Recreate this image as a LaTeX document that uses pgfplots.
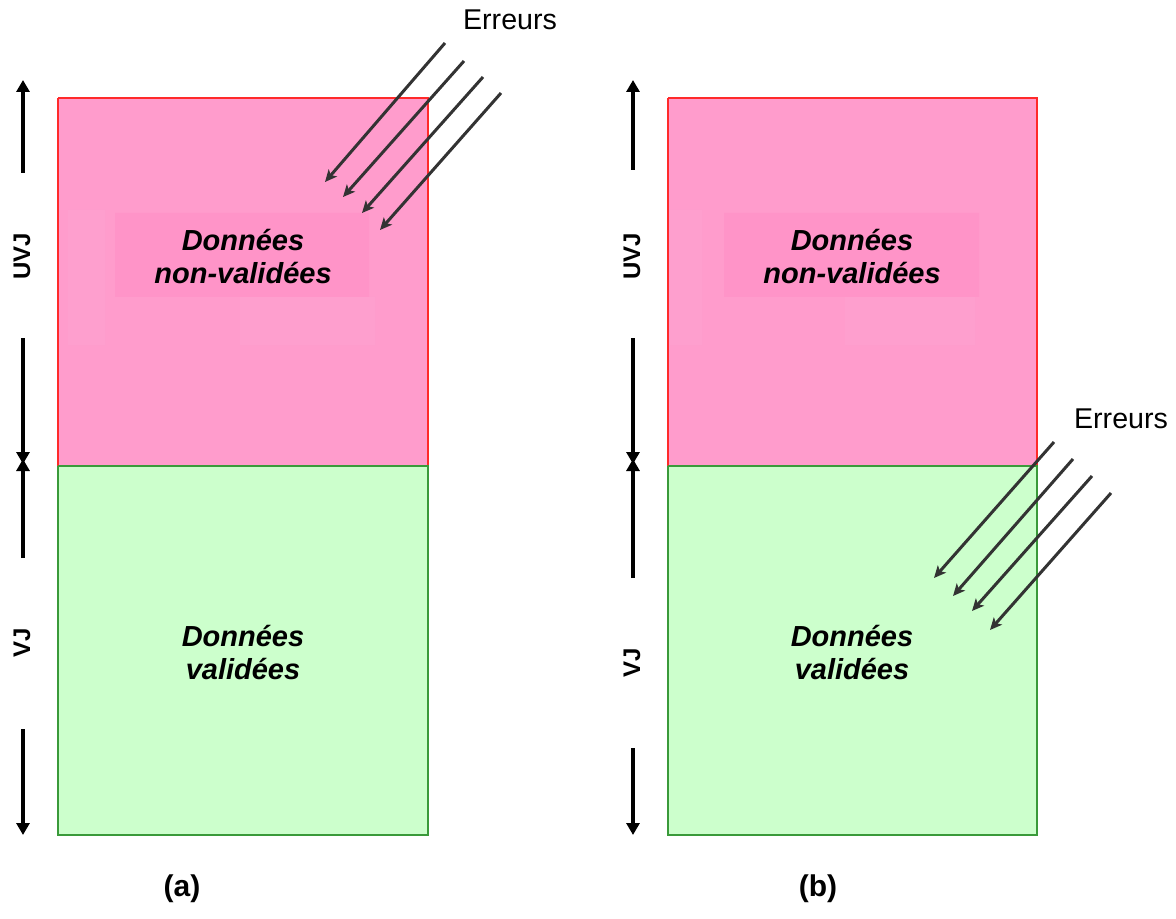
\documentclass[border=0pt]{standalone}
\usepackage{pgfplots}
\pgfplotsset{compat=1.18}
\usepackage{fontspec}
\setmainfont{Liberation Sans}
\usetikzlibrary{arrows.meta}
\definecolor{pinkfill}{HTML}{FF9CCC}
\definecolor{pinkin}{HTML}{FF94C8}
\definecolor{pinkfaint}{HTML}{FE9FCE}
\definecolor{greenfill}{HTML}{CCFFCC}
\definecolor{greenedge}{HTML}{3A9A3A}
\definecolor{rededge}{HTML}{FF2A2A}
\definecolor{errcol}{HTML}{333333}
\begin{document}
\begin{tikzpicture}
\begin{axis}[
  width=588pt, height=459.5pt, scale only axis,
  xmin=0, xmax=1176, ymin=0, ymax=919, y dir=reverse,
  hide axis, clip=false,
]
\addplot[draw=none] coordinates {(0,0) (1176,919)};
% panel (a)
\addplot[fill=pinkfill, draw=rededge, line width=0.6pt] coordinates {(58,98) (428,98) (428,466) (58,466) (58,98)};
\addplot[fill=pinkfaint, draw=none] coordinates {(68,210) (105,210) (105,345) (68,345) (68,210)};
\addplot[fill=pinkfaint, draw=none] coordinates {(240,297) (375,297) (375,345) (240,345) (240,297)};
\addplot[fill=pinkin, draw=none] coordinates {(115,213) (369,213) (369,297) (115,297) (115,213)};
\addplot[fill=greenfill, draw=greenedge, line width=0.6pt] coordinates {(58,466) (428,466) (428,835) (58,835) (58,466)};
% panel (b)
\addplot[fill=pinkfill, draw=rededge, line width=0.6pt] coordinates {(668,98) (1037,98) (1037,466) (668,466) (668,98)};
\addplot[fill=pinkfaint, draw=none] coordinates {(670,210) (702,210) (702,345) (670,345) (670,210)};
\addplot[fill=pinkfaint, draw=none] coordinates {(845,297) (975,297) (975,345) (845,345) (845,297)};
\addplot[fill=pinkin, draw=none] coordinates {(724,213) (979,213) (979,297) (724,297) (724,213)};
\addplot[fill=greenfill, draw=greenedge, line width=0.6pt] coordinates {(668,466) (1037,466) (1037,835) (668,835) (668,466)};
% vertical arrows (a)
\pgfplotsset{varr/.style={black, line width=2pt, -{Triangle[width=6.5pt,length=6pt]}}}
\addplot[varr] coordinates {(23,173) (23,80)};
\addplot[varr] coordinates {(23,338) (23,464)};
\addplot[varr] coordinates {(23,558) (23,459)};
\addplot[varr] coordinates {(23,729) (23,835)};
% vertical arrows (b)
\addplot[varr] coordinates {(633,170) (633,80)};
\addplot[varr] coordinates {(633,338) (633,464)};
\addplot[varr] coordinates {(633,578) (633,459)};
\addplot[varr] coordinates {(633,748) (633,835)};
% error arrows (a)
\pgfplotsset{earr/.style={errcol, line width=1.5pt, -{Stealth[width=5.5pt,length=6pt,inset=1.5pt]}}}
\addplot[earr] coordinates {(445,43) (325,182)};
\addplot[earr] coordinates {(464,61) (343,197)};
\addplot[earr] coordinates {(483,77) (362,213)};
\addplot[earr] coordinates {(501,93) (380,230)};
% error arrows (b)
\addplot[earr] coordinates {(1054,442) (934,578)};
\addplot[earr] coordinates {(1073,459) (953,596)};
\addplot[earr] coordinates {(1092,476) (972,611)};
\addplot[earr] coordinates {(1111,493) (990,630)};
% texts
\node[align=center, font=\fontsize{14.5}{16.5}\selectfont\bfseries\itshape] at (axis cs:243,257) {Données\\non-validées};
\node[align=center, font=\fontsize{14.5}{16.5}\selectfont\bfseries\itshape] at (axis cs:852,257) {Données\\non-validées};
\node[align=center, font=\fontsize{14.5}{16.5}\selectfont\bfseries\itshape] at (axis cs:243,653) {Données\\validées};
\node[align=center, font=\fontsize{14.5}{16.5}\selectfont\bfseries\itshape] at (axis cs:852,653) {Données\\validées};
\node[font=\fontsize{14.3}{16}\selectfont] at (axis cs:510,20) {Erreurs};
\node[font=\fontsize{14.3}{16}\selectfont] at (axis cs:1121,419) {Erreurs};
\node[rotate=90, font=\fontsize{12}{14}\selectfont\bfseries] at (axis cs:22,256) {UVJ};
\node[rotate=90, font=\fontsize{12}{14}\selectfont\bfseries] at (axis cs:22,643) {VJ};
\node[rotate=90, font=\fontsize{12}{14}\selectfont\bfseries] at (axis cs:632,256) {UVJ};
\node[rotate=90, font=\fontsize{12}{14}\selectfont\bfseries] at (axis cs:632,663) {VJ};
\node[font=\fontsize{15}{17}\selectfont\bfseries] at (axis cs:182,889) {(a)};
\node[font=\fontsize{15}{17}\selectfont\bfseries] at (axis cs:818,889) {(b)};
\end{axis}
\end{tikzpicture}
\end{document}
